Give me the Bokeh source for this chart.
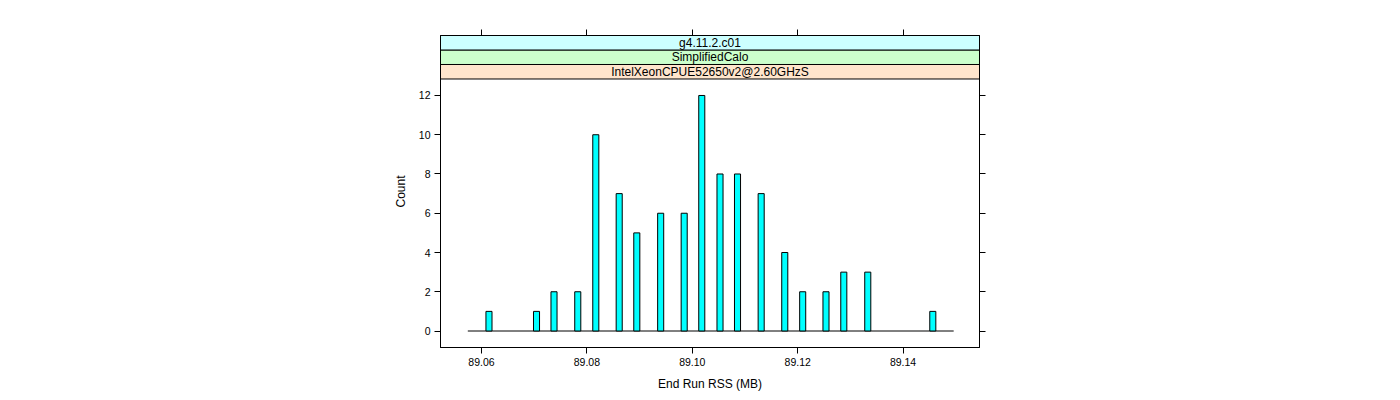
from bokeh.plotting import figure
from bokeh.models import (FixedTicker, LinearAxis, NumeralTickFormatter, ColumnDataSource,
                          CustomLabelingPolicy)
from bokeh.embed import file_html
from bokeh.resources import INLINE
from bokeh.core.properties import value

# ---- data ----
bin_centers = [89.06142, 89.07044, 89.07376, 89.07827, 89.08169, 89.08613, 89.08947,
               89.09400, 89.09846, 89.10180, 89.10526, 89.10858, 89.11307, 89.11755,
               89.12095, 89.12537, 89.12875, 89.13330, 89.14564]
counts = [1, 1, 2, 2, 10, 7, 5, 6, 6, 12, 8, 8, 7, 4, 2, 2, 3, 3, 1]
bin_width = 0.00115
break_range = [89.0574, 89.1496]
x_ticks = [89.06, 89.08, 89.10, 89.12, 89.14]
y_ticks = [0, 2, 4, 6, 8, 10, 12]
strip_labels = ["IntelXeonCPUE52650v2@2.60GHzS", "SimplifiedCalo", "g4.11.2.c01"]  # bottom -> top
strip_colors = ["#FFE5CC", "#CCFFCC", "#CCFFFF"]
x_label = "End Run RSS (MB)"
y_label = "Count"

FONT = "Liberation Sans"

# ---- ranges ----
ymax = max(counts)
pad = 0.07 * ymax
y0 = -pad
panel_top = ymax + pad
strip_h = 0.7387
y1 = panel_top + len(strip_labels) * strip_h
x0, x1 = 89.05222, 89.1545

p = figure(frame_width=539, frame_height=312,
           min_border_left=440, min_border_right=20, min_border_top=35, min_border_bottom=45,
           x_range=(x0, x1), y_range=(y0, y1),
           x_axis_location=None, y_axis_location=None,
           output_backend="svg", toolbar_location=None)
p.grid.visible = False
p.outline_line_color = "black"
p.background_fill_color = "white"
p.border_fill_color = "white"

no_labels = CustomLabelingPolicy(code="""
const idx = [...indices];
for (const i of idx) indices.unset(i);
return indices;
""")


def style(ax, show_labels=True):
    ax.axis_line_color = "black"
    ax.major_tick_line_color = "black"
    ax.major_tick_out = 6
    ax.major_tick_in = 0
    ax.minor_tick_out = 0
    ax.minor_tick_in = 0
    ax.major_label_text_font = FONT
    ax.major_label_text_color = "black"
    ax.major_label_text_font_size = "10.5px"
    ax.major_label_standoff = 4
    ax.axis_label_text_font = FONT
    ax.axis_label_text_font_style = "normal"
    ax.axis_label_text_font_size = "12px"
    ax.axis_label_text_color = "black"
    if not show_labels:
        ax.major_label_policy = no_labels
    return ax


below = style(LinearAxis(ticker=FixedTicker(ticks=x_ticks),
                         formatter=NumeralTickFormatter(format="0.00")))
below.axis_label = x_label
below.axis_label_standoff = 8
p.add_layout(below, "below")

above = style(LinearAxis(ticker=FixedTicker(ticks=x_ticks)), show_labels=False)
p.add_layout(above, "above")

left = style(LinearAxis(ticker=FixedTicker(ticks=y_ticks)))
left.axis_label = y_label
left.axis_label_standoff = 8
p.add_layout(left, "left")

right = style(LinearAxis(ticker=FixedTicker(ticks=y_ticks)), show_labels=False)
p.add_layout(right, "right")

# baseline of empty bins
p.segment(x0=[break_range[0]], y0=[0], x1=[break_range[1]], y1=[0], line_color="black", line_width=1)

# bars
src = ColumnDataSource(dict(
    left=[c - bin_width / 2 for c in bin_centers],
    right=[c + bin_width / 2 for c in bin_centers],
    top=counts,
    bottom=[0] * len(counts),
))
p.quad(left="left", right="right", top="top", bottom="bottom", source=src,
       fill_color="#00FFFF", line_color="black", line_width=1)

# strips
n = len(strip_labels)
sb = [panel_top + i * strip_h for i in range(n)]
st = [panel_top + (i + 1) * strip_h for i in range(n)]
p.quad(left=[x0] * n, right=[x1] * n, bottom=sb, top=st,
       fill_color=strip_colors, line_color="black", line_width=1)
p.text(x=[(x0 + x1) / 2] * n, y=[(b + t) / 2 for b, t in zip(sb, st)], text=strip_labels,
       text_align="center", text_baseline="middle",
       text_font=value(FONT), text_font_size=value("12px"), text_color="black")

open("out.html", "w").write(file_html(p, INLINE))
